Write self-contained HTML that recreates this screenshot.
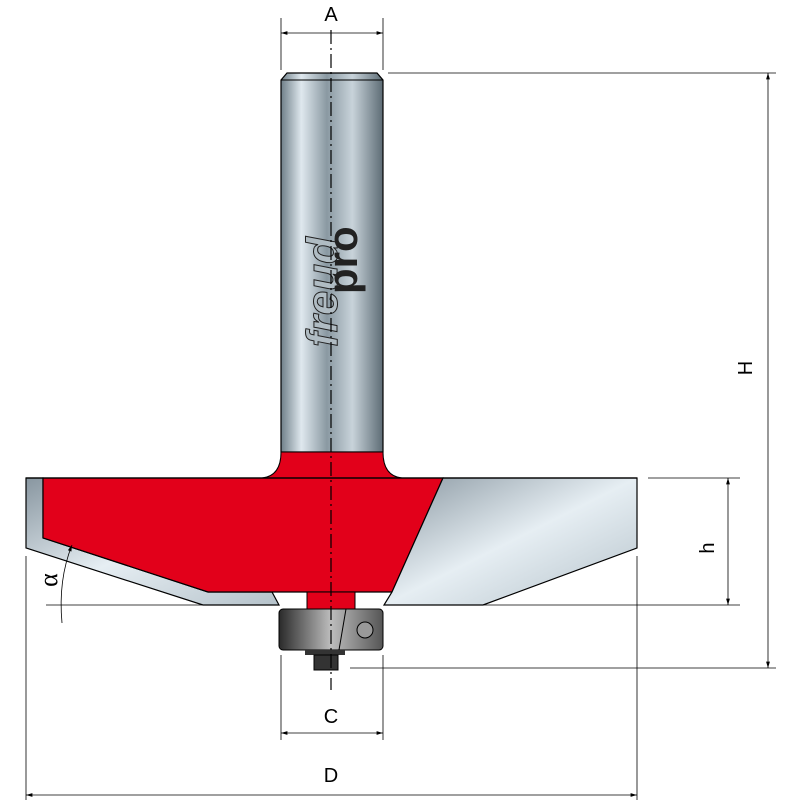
<!DOCTYPE html>
<html><head><style>body{margin:0;background:#fff}svg{display:block}</style></head><body>
<svg width="800" height="800" viewBox="0 0 800 800" xmlns="http://www.w3.org/2000/svg" font-family="Liberation Sans, sans-serif">
<defs>
<linearGradient id="sh" x1="0" x2="1"><stop offset="0" stop-color="#6f7f88"/><stop offset="0.2" stop-color="#dfe8ee"/><stop offset="0.45" stop-color="#8a99a2"/><stop offset="0.7" stop-color="#c8d3da"/><stop offset="1" stop-color="#5d6c75"/></linearGradient>
<linearGradient id="gr" x1="0" y1="0" x2="1" y2="1"><stop offset="0" stop-color="#8896a0"/><stop offset="0.5" stop-color="#e6eef3"/><stop offset="1" stop-color="#b5c2ca"/></linearGradient>
<linearGradient id="br" x1="0" x2="1"><stop offset="0" stop-color="#2a2a2a"/><stop offset="0.5" stop-color="#bdbdbd"/><stop offset="1" stop-color="#555"/></linearGradient>
<marker id="ar" viewBox="0 0 10 10" refX="10" refY="5" markerWidth="8" markerHeight="8" orient="auto-start-reverse"><path d="M0,2 L10,5 L0,8 z" fill="#000"/></marker>
</defs>
<path d="M281,80 L287,73 L377,73 L383,80 L383,452 L281,452 Z" fill="url(#sh)" stroke="#000" stroke-width="1.2"/>
<line x1="281" y1="80" x2="383" y2="80" stroke="#000"/>
<text x="0" y="0" transform="translate(337,347) rotate(-90)" font-size="44" font-style="italic" font-weight="bold" fill="#b0bcc3" stroke="#222" stroke-width="1">freud</text>
<text x="0" y="0" transform="translate(357,294) rotate(-90)" font-size="42" font-weight="bold" fill="#222">pro</text>
<path d="M281,452 Q281,476 262,478 L402,478 Q383,476 383,452 Z" fill="#e2001a" stroke="#000"/>
<path d="M26,478 L43,478 L43,538 L208,592 L272,592 L279,605 L203,605 L26,548 Z" fill="url(#gr)" stroke="#000" stroke-width="1.2"/>
<path d="M43,478 L443,478 L392,592 L208,592 L43,538 Z" fill="#e2001a" stroke="#000" stroke-width="1.2"/>
<path d="M443,478 L637,478 L637,548 L483,605 L384,605 L392,592 Z" fill="url(#gr)" stroke="#000" stroke-width="1.2"/>
<line x1="26" y1="478" x2="637" y2="478" stroke="#000" stroke-width="1.2"/>
<rect x="307" y="592" width="48" height="18" fill="#e2001a" stroke="#000"/>
<rect x="279" y="609" width="104" height="41" rx="4" fill="url(#br)" stroke="#000"/>
<path d="M346,609 L339,650" stroke="#000"/>
<circle cx="365" cy="630" r="8" fill="#999" stroke="#000"/>
<rect x="305" y="650" width="40" height="5" fill="#333"/>
<rect x="314" y="655" width="24" height="15" fill="#333" stroke="#000"/>
<line x1="331" y1="30" x2="331" y2="690" stroke="#000" stroke-width="1.2" stroke-dasharray="14,4,2,4"/>
<g stroke="#000" stroke-width="0.8" fill="none">
<line x1="281" y1="18" x2="281" y2="70"/><line x1="383" y1="18" x2="383" y2="70"/>
<line x1="281" y1="33" x2="383" y2="33" marker-start="url(#ar)" marker-end="url(#ar)"/>
<line x1="388" y1="73" x2="776" y2="73"/><line x1="350" y1="668" x2="776" y2="668"/>
<line x1="768" y1="73" x2="768" y2="668" marker-start="url(#ar)" marker-end="url(#ar)"/>
<line x1="648" y1="478" x2="740" y2="478"/><line x1="388" y1="605" x2="740" y2="605"/>
<line x1="728" y1="478" x2="728" y2="605" marker-start="url(#ar)" marker-end="url(#ar)"/>
<line x1="281" y1="655" x2="281" y2="740"/><line x1="383" y1="655" x2="383" y2="740"/>
<line x1="281" y1="733" x2="383" y2="733" marker-start="url(#ar)" marker-end="url(#ar)"/>
<line x1="26" y1="556" x2="26" y2="800"/><line x1="637" y1="556" x2="637" y2="800"/>
<line x1="26" y1="795" x2="637" y2="795" marker-start="url(#ar)" marker-end="url(#ar)"/>
<line x1="46" y1="605" x2="205" y2="605"/>
<path d="M72,545 Q58,580 62,623" marker-start="url(#ar)"/>
</g>
<g font-size="20" fill="#000" text-anchor="middle">
<text x="331" y="21">A</text>
<text x="331" y="723">C</text>
<text x="331" y="782">D</text>
<text transform="translate(752,368) rotate(-90)">H</text>
<text transform="translate(714,548) rotate(-90)">h</text>
<text transform="translate(57,580) rotate(-90)" font-family="Liberation Serif, serif" font-size="26">α</text>
</g>
</svg>
</body></html>
